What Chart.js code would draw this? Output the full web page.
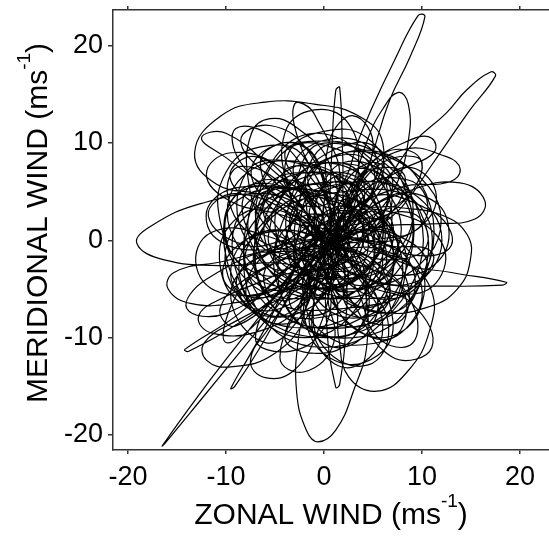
<!DOCTYPE html>
<html>
<head>
<meta charset="utf-8">
<script src="https://cdn.jsdelivr.net/npm/chart.js@4/dist/chart.umd.min.js"></script>
<style>
  html, body { margin: 0; padding: 0; background: #fff; }
  #wrap { width: 549px; height: 544px; }
</style>
</head>
<body>
<div id="wrap"><canvas id="hodo" width="549" height="544"></canvas></div>
<script>
// Hodograph of the wind vector: zonal (u) and meridional (v) components, m/s.
// One line per oscillation loop, u and v lists kept line-for-line.
const zonal = [
  0.5, 3, 5.5, 4.5, 0.5, -3, -2.5,
  -6, -11, -13.2, -10.5, -6, -1, 3.5, 6, 5, 2.5,
  4, 4.4, 3, 1.2, -0.6, -1.8, -2.8, -2.6, -1.5,
  -4, -10, -16.3, -19.1, -17.6, -12.5, -6, -0.5,
  2, 3.4, 4.8, 7.2, 9.6, 10.3, 8.8, 6.7, 5, 3.5,
  7.5, 12, 14.6, 14.9, 13.6, 10.8, 6, 1.5, -1.5,
  -4.5, -9.2, -13, -16.5, -16.1, -12.5, -8.6, -4, -1,
  3, 9, 13.9, 16.4, 15.4, 11, 5, 0.5,
  -5, -10.5, -12.8, -11.5, -6.5, -2, 0.8,
  4, 6.5, 9.1, 12.5, 14.6, 17, 17.5, 14.9, 11.1, 8, 4,
  8, 10.9, 10.8, 8.5, 5.4, 2.5, 1.5, 0.8,
  -4, -11, -15.3, -15.9, -13.5, -9, -4, -0.5,
  2, 4.5, 6, 7.6, 8.6, 8.6, 7.3, 4.5,
  8, 13, 18.6, 18.2, 12, 6, 1.5,
  -4, -9, -12.2, -12, -9.5, -5, -1.5, 0.8,
  0.6, 0.8, 1.2, 1.6, 1.9, 2.2,
  3.5, 8, 12.5, 13.9, 12.8, 8, 3,
  -2.5, -8.5, -14.2, -13.8, -8.2, -3,
  -5.5, -7.5, -6, -3, -0.5, 0.8,
  1.5, 0.5, -2.8, -5.5, -7.4, -7.7, -6, -3,
  -5, -7.3, -9.5, -9.1, -6.4, -3.5,
  0, 4.5, 9, 11, 11.2, 8, 3,
  0.5, 0.3, 1.2, 1.6, 2.2, 2,
  -2, -6.5, -10, -10.6, -8, -3, 1,
  6, 4.3, 0, -3.6, -3.2, 0,
  6, 9.6, 9.2, 5, 0, -2.2, -1,
  -5, -9.2, -10.6, -8, -3, 1, 2,
  6, 10, 12.6, 11.6, 7, 2,
  -2, -6.6, -8.2, -6, -2, 2, 3.5,
  7.5, 8.2, 6, 1.5, -1.5, -1,
  -3.5, -8.5, -9.8, -7, -2, 2,
  3.5, 2.5, -1, -4, -3.5, -1,
  4, 7, 5.5, 1, -2, -1.5,
  -6, -11.5, -13, -10, -4, 0,
  5, 9, 10.2, 7.5, 3, 0.5,
  -1, -4, -1, 4, 6.5, 4,
  0, -4, -1, 3, 4.3, 2.5,
  -4, -9.5, -12, -9.5, -4.5, 0,
  6.5, 11.5, 12, 8.5, 3.5, 0.5,
  -3, -7, -3.5, 0, 1,
  3.5, 8.6, 10.6, 8.4, 3.5, 0,
  -5, -8.5, -5.5, -1.5, 0,
  -2.5, -6, -10, -9.3, -4.5, 0,
  5.5, 6.5, 3, 0, -0.5,
  2.5, 6.2, 9.8, 8.6, 4,
  -1, -2.5, -7, -7.6, -4, 0,
  4, 5, 2, -1.8, -1,
  -4.5, -8.8, -7.2, -2.5, 0,
  3, 5.5, 9, 9, 5, 1,
  -3, -7, -11.6, -11, -5.5, -1,
  4.5, 8.6, 8.6, 4, 1,
  0.5, -2.2, -7.2, -5.5, -1,
  4, 8.2, 11.4, 9.6, 5, 1,
  -1, 0, 4.5, 6.6, 4, 1,
  -3, -7.5, -8.4, -5, -1.2, 0.5,
  3, 6.6, 7.4, 4.5, 1, 0,
  -2, -4.2, -1.5, 2, 2.5,
  0.5, -3.5, -5, -3, 0.5, 2.5,
  6, 11, 9.5, 4.5, 1,
  -1, 1, 5.8, 6.6, 3,
  -2, -6, -9.6, -7, -3, 0,
  2, 2.5, 7.6, 8.4, 5, 1.5,
  -3, -9, -10.6, -7.5, -2,
  2, 3.5, 1.5, -1.5, -1.5, 1,
  3.8, 4.2, 1.5, -1.5, -0.5,
  1.5, 4.5, 5, 2.5, 0,
  -2.5, -3.8, -1.8, 1.5, 2.5, 1,
  -1.5, -3.5, -2, 1, 1,
  1, -4, -8, -7, -2, 2,
  5, 7.5, 4, -1, -2, 1,
  -1, -5, -9, -8.5, -4, 0,
  3, 6, 3, -0.5, -1, 1,
  4, 9, 10.5, 7, 2,
  -2, -7, -9.5, -6, -2.5, -0.5,
  2, 5, 3, 0.5, 0.8,
  3.5, 7, 5, 1.5, 0.5,
  -3, -6.5, -3, 0, 0,
  2, 8, 7, 2, 0,
  -1.5, -5, -10, -8.5, -3.5,
  1, 7, 10, 6, 2,
  0, -5, -7, -4.5, -0.5,
  1.5, 4.5, 3, -2, -1,
  2.5, 6, 5.5, 1, -2.5, 0,
  -1, -3, 2, 5.5, 3,
  0.5, -4, -8.5, -9, -4.5, -0.5,
  3, 8.5, 10.5, 7, 2, 0,
  -2, -9, -11.8, -8, -2,
  1, -1.5, 2, 5.5, 3,
  2, 3.5, 8, 7, 2.5,
  -1, -2.5, -6, -5, -1,
  1, 5.5, 6.5, 2.5, 0,
  0, -1.5, 3, 4, 1.5,
  -1.5, -3.5, 0, 2.5, 1,
  2, 4, 1, -1.5, 0,
  -3, -6, -5, -1.5, 0,
  3, 6.5, 6.5, 3, 0.5,
  -4, -10, -12.5, -10, -5, -1,
  -2, -4.5, -2, 1, 0.5,
  4, 11, 13, 9, 3,
  -3, -12, -14, -10, -4,
  1.5, -1, -3, -2.5, 0,
  4, 9, 11, 7, 3,
  -1, 2, 4, 2, -1,
  2, 8.1, 8.1, 2, -4.1, -4.1,
  1, 8, 8, 1, -6, -6,
  -1, 5.1, 5.1, -1, -7.1, -7.1,
  -2, 5, 5, -2, -9, -9,
  0, 6.1, 6.1, 0, -6.1, -6.1,
  2, 9.8, 9.8, 2, -5.8, -5.8,
  3, 8.2, 8.2, 3, -2.2, -2.2,
  1, 8, 8, 1, -6, -6,
  -1, 6.8, 6.8, -1, -8.8, -8.8,
  -2, 4.1, 4.1, -2, -8.1, -8.1,
  0, 6.9, 6.9, 0, -6.9, -6.9,
  3, 9.8, 9.1, 3, -3.8, -3.1,
  4, 11, 11, 4, -3, -3,
  2, 10.7, 10.7, 2, -6.7, -6.7,
  -1, 5.9, 5.9, -1, -7.9, -7.9,
  -3, 3.1, 3.1, -3, -9.1, -9.1,
  -2, 4.9, 4.9, -2, -8.9, -8.9,
  1, 6.2, 6.2, 1, -4.2, -4.2,
  2, 9.8, 9.8, 2, -5.8, -5.8,
  0, 5.2, 5.2, 0, -5.2, -5.2,
  1, 5.3, 5.3, 1, -3.3, -3.3,
  0, 8.7, 8.7, 0, -8.7, -8.7,
  1, 4.5, 4.5, 1, -2.5, -2.5,
  -1, 3.3, 3.3, -1, -5.3, -5.3
];

const meridional = [
  0.5, 3, 1, -3, -4.5, -2, 2,
  4.5, 5.8, 9, 12.8, 14.2, 14, 12.8, 10, 5, 1,
  -4, -10.5, -15.5, -19.5, -20.7, -19.5, -15.5, -10, -4,
  -2.4, -2.6, -2, -0.3, 1.5, 3.8, 4.8, 3.5,
  6, 10, 13.4, 18.5, 23.1, 23, 18.9, 14.4, 9, 4,
  3.4, 2.6, 0.6, -2.2, -5, -6.8, -7.4, -5.5, -1.5,
  -5.2, -11.2, -16.2, -21.1, -20.7, -16.3, -11.5, -5.8, -2,
  2.2, 5.2, 5.9, 4.1, 2.2, 1.7, 1.3, -0.5,
  -3.6, -6, -7.8, -9.5, -9.3, -6.5, -2.5,
  2.5, 6.2, 10, 13.1, 15.5, 17.3, 16.9, 13.4, 7.9, 3.5, -0.5,
  -2, -5, -9.2, -13.5, -15.5, -14, -10, -5,
  -1.4, -2.3, -3.3, -5, -6.5, -6.4, -5, -2,
  3, 10.5, 13.5, 15.2, 14, 10.2, 5.5, 0.5,
  -2.3, -3.3, -4.3, -4.6, -4.7, -4.5, -3.2,
  -5.8, -8.3, -10.5, -12.3, -13, -11.6, -7.5, -2.5,
  3, 9, 15.4, 15.7, 9, 3,
  6, 9.3, 8.6, 7.3, 6, 5.5, 3.2,
  -1.8, -7.4, -11.2, -11.4, -8.2, -4.6,
  -8.8, -12.3, -14.1, -13.3, -9, -4,
  1.5, 8, 11.6, 12.5, 11, 6, 1.5, -1,
  -7, -11.3, -15.2, -15, -10.8, -5.5,
  1, 7.6, 10.4, 10.5, 9, 7.3, 4,
  -3, -9, -15.1, -14.8, -9, -3,
  8.5, 9.6, 7, 2, -2.8, -3.2, 0.5,
  6.8, 10.6, 11.2, 9, 4, -0.3,
  -1, -3.6, -8, -10.6, -9.6, -5, 0,
  3.2, 2, -2.6, -6.8, -7.6, -4.2, 0,
  4.2, 4.6, 2, -2.2, -3.6, -2,
  -4.6, -4.6, -1, 3.2, 5.6, 5, 2,
  0.5, -4, -7.8, -8.6, -5, 0,
  5, 7.6, 4.5, 0.3, -0.8, 1.5,
  7, 12, 13.4, 11, 5, 0.5,
  -2, -8, -11.8, -12.3, -8, -2.5,
  0.5, 0.8, -2.8, -5.5, -4.5, -1,
  1, -1.5, -5.6, -9.6, -9, -4.5,
  3.5, 8.8, 10.2, 9, 4.5, 0.5,
  -4, -9.8, -11.6, -10, -5, -0.5,
  2.5, 4, 6.8, 9, 7.6, 3.5,
  3, 0.5, -3.5, -5.5, -3, 0.5,
  -3, -10, -11.4, -9, -4,
  5, 6.2, 3.2, 0.5, 0, 1.5,
  6, 10.2, 11.8, 9, 3.5,
  -2, -5.5, -4.5, -1, 1, 0,
  -2.5, -6.5, -7.8, -5, -1,
  4.5, 9, 8.4, 4.6, 2,
  -2.5, -8, -7.6, -3.5, -0.5, 0.5,
  3.5, 7.5, 8.8, 6.5, 2.5,
  -0.5, -3.6, -7, -6, -2.5,
  -4.5, -10, -10.6, -6.5, -2, -0.5,
  4, 5.6, 3.8, 0.2, -1, 0,
  0, -2, -6.5, -7, -3,
  4, 9.8, 8, 3.5, 1.5,
  4, 7.5, 5, 1.2, 0, -1,
  -6, -11, -12.8, -9, -4, -1,
  1, 0, -4.5, -7.8, -5, -1,
  2, 1.5, -2, -4.6, -3.2, 0,
  3, 6.8, 7.6, 5.6, 2,
  -2, -3.5, -1.2, 2, 2.5, 0.5,
  -0.5, -1.2, -4.2, -4, -2,
  2.5, 6.5, 6.8, 2.5, 0,
  -1, 2.8, 6.5, 8.6, 5.5, 1.5,
  -2, -7, -8.4, -4, -0.5, 0,
  -4, -8.8, -7, -3.6, -1,
  2, -0.5, -2.5, -1.5, 1.5, 2.8,
  1.8, -2, -3.8, -2.2, 1.5,
  3.2, 3, 0, -1.8, 0,
  2.5, -0.5, -3, -2.2, 1, 3.5,
  4.5, 2.2, -0.5, 0.2, 3,
  2, 6, 5, 0, -2, 0,
  3, -1, -5, -4, 0, 3,
  6, 10.5, 11.5, 8, 4, 1.5,
  -3, -9, -13, -11, -6, -1,
  1.5, 2.8, -0.5, -2, -1,
  -1, -2, -6, -10.5, -8, -3,
  3, 9.5, 12.8, 10, 4,
  0, 5.5, 8, 5, 1,
  2, 8, 10, 6.5, 2,
  -1.5, -5, -10, -8, -3,
  -1, -6.5, -10.5, -5, -1.5,
  1, 3, 8, 8, 3,
  0, -3, 2, 6, 4.5,
  -2, -5, -9.5, -8.5, -3,
  2.5, 0, -4, -5, -1, 2,
  3, 8, 10.5, 8, 3,
  -1, 1, -0.5, -5, -5.5, -2,
  1, 0, -3, -6, -4, 0,
  2, 4.8, 2.5, -0.5, 0,
  -3, -8.5, -11, -7, -2,
  2, 6.5, 7, 3, 0.5,
  1, 5, 4.5, 0.5, -1.5,
  -0.5, -3, -6, -6.5, -2,
  2, 7, 7.5, 3.5, 0.5,
  -2, -6.5, -7.5, -4, -0.5,
  1, 4.5, 6, 3, 0,
  -1, -3, -6, -5, -1.5,
  0.5, 2.5, -1.5, -2.5, 0,
  4, 8.5, 10.5, 11, 7, 3,
  -5, -12, -13.5, -10.5, -5,
  4, 3, -0.5, -1.5, 1,
  0, -4, -7, -7.5, -3,
  5, 13, 14, 10, 5,
  -4, -6.5, -11, -12, -6.5,
  0.5, -1, 1, 3.5, 2.5,
  8, 5, -1, -4, -1, 5,
  8, 4.5, -2.5, -6, -2.5, 4.5,
  8, 5, -4, -8, -5, 4,
  7, 4, -2, -5, -2, 4,
  5, 1.5, -5.5, -9, -5.5, 1.5,
  5, 3.5, -4, -7, -5.5, 2,
  10, 5.5, -3.5, -8, -3.5, 5.5,
  10, 6.5, -0.5, -4, -0.5, 6.5,
  10, 4.5, -2, -6, -0.5, 6,
  8, 3.5, -5.5, -10, -5.5, 3.5,
  5, 1, -7, -11, -7, 1,
  6, 3, -6, -10, -7, 2,
  6, 3, -3, -6, -3, 3,
  9, 5.5, -1.5, -5, -1.5, 5.5,
  11, 6, -1, -5, 0, 7,
  8, 4.5, -2.5, -6, -2.5, 4.5,
  5, 1.5, -5.5, -9, -5.5, 1.5,
  6, 2, -6, -10, -6, 2,
  9, 6, -4.5, -9, -6, 4.5,
  7, 4, -2, -5, -2, 4,
  7, 4.5, -0.5, -3, -0.5, 4.5,
  10, 5, -5, -10, -5, 5,
  4, 1.5, -3.5, -6, -3.5, 1.5,
  5, 3, -1, -3, -1, 3
];

// Axis ranges and tick labels
const xRange = [-21.53, 22.96];
const yRange = [-21.54, 23.67];
const xTicks = [-20, -10, 0, 10, 20];
const yTicks = [-20, -10, 0, 10, 20];
const xTitle = ['ZONAL WIND (ms', '-1', ')'];
const yTitle = ['MERIDIONAL WIND (ms', '-1', ')'];

const FONT = '"Liberation Sans", Arial, Helvetica, sans-serif';
const AXIS_COLOR = '#333';

const n = Math.min(zonal.length, meridional.length);
const track = [];
for (let i = 0; i < n; i++) track.push({ x: zonal[i], y: meridional[i] });

// Axis titles with a raised unit exponent
function drawUnitTitle(ctx, parts, size, supSize, raise) {
  ctx.font = size + 'px ' + FONT;
  const w1 = ctx.measureText(parts[0]).width;
  const w3 = ctx.measureText(parts[2]).width;
  ctx.font = supSize + 'px ' + FONT;
  const w2 = ctx.measureText(parts[1]).width;
  let x = -(w1 + w2 + w3) / 2;
  ctx.textAlign = 'left';
  ctx.textBaseline = 'alphabetic';
  ctx.font = size + 'px ' + FONT;
  ctx.fillText(parts[0], x, 0); x += w1;
  ctx.font = supSize + 'px ' + FONT;
  ctx.fillText(parts[1], x, -raise); x += w2;
  ctx.font = size + 'px ' + FONT;
  ctx.fillText(parts[2], x, 0);
}

const axisTitles = {
  id: 'axisTitles',
  afterDraw(chart) {
    const ctx = chart.ctx;
    const area = chart.chartArea;
    ctx.save();
    ctx.fillStyle = '#000';
    ctx.translate((area.left + area.right) / 2, 524);
    drawUnitTitle(ctx, xTitle, 30, 19, 17);
    ctx.restore();
    ctx.save();
    ctx.fillStyle = '#000';
    ctx.translate(47, 223);
    ctx.rotate(-Math.PI / 2);
    drawUnitTitle(ctx, yTitle, 30, 19, 17);
    ctx.restore();
  }
};

function fixedTicks(list) {
  return scale => { scale.ticks = list.map(v => ({ value: v })); };
}

new Chart(document.getElementById('hodo'), {
  type: 'scatter',
  data: {
    datasets: [{
      data: track,
      showLine: true,
      borderColor: '#000',
      borderWidth: 1.2,
      pointRadius: 0,
      pointHoverRadius: 0,
      tension: 0.45,
      fill: false
    }]
  },
  options: {
    responsive: false,
    animation: false,
    events: [],
    layout: { padding: { top: 6, left: 0, right: 0, bottom: 0 } },
    plugins: { legend: { display: false }, tooltip: { enabled: false } },
    scales: {
      x: {
        type: 'linear', position: 'bottom', min: xRange[0], max: xRange[1],
        afterBuildTicks: fixedTicks(xTicks),
        afterFit: s => { s.height = 94; s.paddingLeft = 0; s.paddingRight = 0; },
        ticks: { color: '#000', font: { family: FONT, size: 27 }, padding: 7, maxRotation: 0, autoSkip: false, callback: v => String(v) },
        grid: { drawOnChartArea: false, tickLength: 4, color: AXIS_COLOR, lineWidth: 1.5 },
        border: { display: true, color: AXIS_COLOR, width: 1.5 }
      },
      xTop: {
        type: 'linear', position: 'top', min: xRange[0], max: xRange[1],
        afterBuildTicks: fixedTicks(xTicks),
        afterFit: s => { s.height = 4; s.paddingLeft = 0; s.paddingRight = 0; },
        ticks: { display: false },
        grid: { drawOnChartArea: false, tickLength: 4, color: AXIS_COLOR, lineWidth: 1.5 },
        border: { display: true, color: AXIS_COLOR, width: 1.5 }
      },
      y: {
        type: 'linear', position: 'left', min: yRange[0], max: yRange[1],
        afterBuildTicks: fixedTicks(yTicks),
        afterFit: s => { s.width = 113; s.paddingTop = 0; s.paddingBottom = 0; },
        ticks: { color: '#000', font: { family: FONT, size: 27 }, padding: 5, callback: v => String(v) },
        grid: { drawOnChartArea: false, tickLength: 5, color: AXIS_COLOR, lineWidth: 1.5 },
        border: { display: true, color: AXIS_COLOR, width: 1.5 }
      }
    }
  },
  plugins: [axisTitles]
});
</script>
</body>
</html>
